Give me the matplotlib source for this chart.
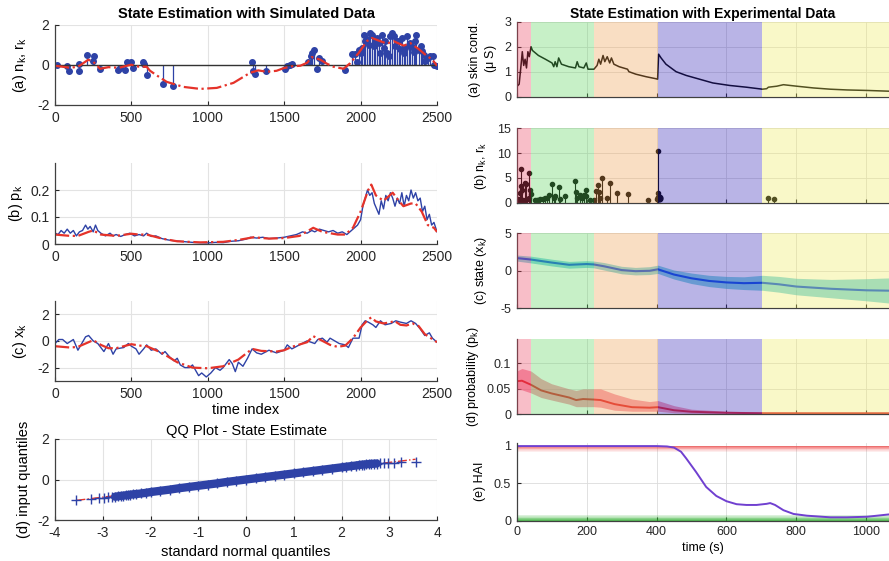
import matplotlib
matplotlib.use("Agg")
import matplotlib.pyplot as plt
import numpy as np

plt.rcParams['font.family'] = ['Liberation Sans', 'DejaVu Sans']
plt.rcParams['mathtext.fontset'] = 'custom'
plt.rcParams['mathtext.rm'] = 'Liberation Sans'
plt.rcParams['mathtext.it'] = 'Liberation Sans'
plt.rcParams['axes.unicode_minus'] = False

# ---------------- Left column data (simulated) ----------------
stem_x = [11, 76, 94, 155, 159, 207, 251, 258, 295, 415, 425, 459, 469, 496, 509, 579, 583, 600,
          710, 775, 1290, 1299, 1310, 1382, 1507, 1518, 1540, 1550, 1659, 1675, 1681, 1692, 1714,
          1731, 1747, 1900, 1943, 1965, 1976, 1987, 2000, 2010, 2020, 2030, 2041, 2052, 2063, 2074,
          2085, 2096, 2107, 2118, 2129, 2140, 2151, 2162, 2173, 2183, 2194, 2205, 2216, 2227, 2238,
          2249, 2260, 2271, 2282, 2293, 2303, 2314, 2325, 2336, 2347, 2358, 2365, 2380, 2395, 2405,
          2413, 2424, 2440, 2456, 2474, 2483, 2500]
stem_y = [0.0, -0.08, -0.3, 0.03, -0.33, 0.5, 0.17, 0.42, -0.2, -0.25, -0.18, -0.25, 0.15, 0.13, -0.17,
          0.15, 0.03, -0.5, -0.95, -1.08, 0.13, -0.33, -0.45, -0.3, -0.22, -0.08, -0.02, 0.03, 0.12,
          0.45, 0.58, 0.72, -0.22, 0.33, 0.2, -0.28, 0.53, 0.55, 0.12, 0.75, 0.6, 0.85, 1.5, 1.2, 1.28,
          1.0, 1.58, 1.5, 0.92, 1.17, 1.33, 1.1, 0.58, 1.5, 0.83, 1.17, 0.58, 0.42, 1.42, 1.58, 1.45,
          0.92, 1.2, 1.17, 0.8, 1.33, 0.58, 0.83, 1.45, 1.0, 1.08, 0.9, 0.62, 1.2, 1.5, 0.75, 0.92,
          0.7, 0.5, 0.17, 0.35, 0.45, 0.45, 0.0, -0.08]
smooth_a_x = [0, 100, 150, 218, 250, 295, 350, 420, 480, 500, 550, 600, 622, 680, 731, 840, 950,
              1059, 1168, 1277, 1330, 1386, 1450, 1496, 1550, 1605, 1650, 1681, 1736, 1780, 1823, 1889,
              1932, 1987, 2041, 2074, 2129, 2173, 2216, 2282, 2325, 2380, 2424, 2470, 2500]
smooth_a_y = [-0.05, -0.15, -0.1, 0.25, 0.15, -0.2, -0.12, -0.15, -0.03, 0.0, -0.1, -0.1, -0.3, -0.6,
              -0.85, -1.1, -1.2, -1.15, -0.9, -0.4, -0.28, -0.35, -0.3, -0.17, -0.08, -0.05, 0.1, 0.38,
              0.25, 0.05, -0.1, -0.2, 0.08, 0.58, 1.17, 1.33, 1.17, 1.05, 1.17, 0.95, 1.08, 0.78, 0.5,
              0.25, -0.05]

pk_x = [0, 2, 20, 40, 60, 80, 100, 120, 140, 160, 180, 200, 215, 230, 250, 265, 280, 300, 330, 360,
        380, 400, 430, 460, 490, 520, 550, 580, 600, 630, 660, 700, 740, 780, 820, 860, 900, 950, 1000,
        1050, 1100, 1150, 1200, 1250, 1280, 1320, 1360, 1400, 1450, 1500, 1540, 1580, 1620, 1650, 1680,
        1700, 1730, 1760, 1790, 1820, 1850, 1880, 1910, 1940, 1960, 1980, 2000, 2015, 2030, 2045, 2060,
        2075, 2090, 2105, 2120, 2135, 2150, 2165, 2180, 2195, 2210, 2225, 2240, 2255, 2270, 2285, 2300,
        2315, 2330, 2345, 2360, 2375, 2390, 2405, 2420, 2435, 2450, 2465, 2480, 2500]
pk_y = [0.0, 0.04, 0.035, 0.05, 0.04, 0.055, 0.04, 0.05, 0.03, 0.045, 0.05, 0.07, 0.055, 0.065, 0.045,
        0.07, 0.05, 0.04, 0.03, 0.04, 0.03, 0.035, 0.028, 0.035, 0.04, 0.03, 0.035, 0.03, 0.04, 0.028,
        0.03, 0.02, 0.015, 0.012, 0.01, 0.008, 0.006, 0.005, 0.004, 0.006, 0.005, 0.01, 0.012, 0.018,
        0.025, 0.022, 0.025, 0.02, 0.022, 0.025, 0.03, 0.035, 0.045, 0.04, 0.05, 0.045, 0.055, 0.05,
        0.045, 0.05, 0.04, 0.045, 0.035, 0.05, 0.06, 0.07, 0.09, 0.14, 0.17, 0.2, 0.18, 0.19, 0.15,
        0.13, 0.11, 0.16, 0.13, 0.18, 0.16, 0.19, 0.17, 0.14, 0.17, 0.15, 0.19, 0.14, 0.18, 0.16, 0.2,
        0.17, 0.19, 0.16, 0.17, 0.12, 0.14, 0.09, 0.11, 0.07, 0.08, 0.045]
pk_red_x = [0, 100, 150, 220, 250, 300, 400, 500, 550, 600, 700, 800, 950, 1100, 1200, 1300, 1400,
            1500, 1600, 1690, 1750, 1850, 1900, 1950, 2000, 2050, 2070, 2100, 2150, 2210, 2250, 2280,
            2330, 2360, 2400, 2440, 2480, 2500]
pk_red_y = [0.035, 0.03, 0.03, 0.045, 0.05, 0.035, 0.03, 0.038, 0.035, 0.035, 0.02, 0.01, 0.006,
            0.008, 0.015, 0.025, 0.02, 0.022, 0.03, 0.06, 0.045, 0.035, 0.035, 0.06, 0.12, 0.2, 0.22,
            0.18, 0.16, 0.19, 0.16, 0.14, 0.15, 0.15, 0.12, 0.07, 0.06, 0.045]

xk_x = [0, 25, 50, 80, 120, 150, 180, 200, 220, 250, 280, 300, 320, 350, 380, 400, 450, 480, 500,
        530, 550, 580, 600, 630, 660, 700, 720, 750, 780, 800, 820, 850, 880, 900, 940, 960, 990, 1020,
        1050, 1080, 1100, 1140, 1160, 1180, 1200, 1230, 1260, 1290, 1320, 1350, 1400, 1450, 1500, 1520,
        1550, 1600, 1650, 1700, 1720, 1750, 1780, 1800, 1830, 1860, 1900, 1920, 1950, 1990, 2010, 2030,
        2050, 2080, 2100, 2130, 2160, 2200, 2230, 2260, 2300, 2330, 2360, 2390, 2420, 2450, 2470, 2500]
xk_y = [-0.2, 0.1, 0.1, -0.2, 0.1, -0.7, -0.1, 0.3, 0.4, 0.0, -0.2, -0.5, -0.8, -0.2, -1.0, -0.6,
        -0.5, -0.2, -0.4, -0.6, -1.0, -0.6, -0.3, -0.7, -0.6, -1.0, -0.8, -1.2, -1.5, -1.3, -1.8, -2.0,
        -2.0, -1.8, -2.6, -2.4, -2.7, -2.4, -2.0, -2.2, -2.0, -1.4, -1.7, -2.3, -1.6, -1.9, -1.3, -0.6,
        -0.9, -1.0, -0.7, -0.9, -0.7, -0.3, -0.6, -0.3, 0.0, -0.2, 0.1, 0.2, -0.1, 0.2, 0.0, -0.2,
        -0.3, -0.5, 0.2, 0.2, 1.2, 1.5, 1.4, 1.2, 1.0, 1.5, 1.2, 1.3, 1.5, 1.4, 1.3, 1.5, 1.3, 0.9,
        0.4, 0.6, 0.2, -0.1]
xk_red_x = [0, 100, 150, 220, 250, 300, 350, 400, 450, 500, 550, 600, 700, 800, 900, 1000, 1100,
            1200, 1290, 1350, 1450, 1500, 1550, 1650, 1690, 1750, 1800, 1850, 1900, 1950, 2000, 2050,
            2070, 2100, 2150, 2200, 2220, 2260, 2300, 2340, 2380, 2420, 2460, 2500]
xk_red_y = [-0.4, -0.5, -0.45, -0.1, 0.05, -0.3, -0.55, -0.55, -0.4, -0.25, -0.35, -0.4, -0.9, -1.6,
            -2.0, -2.05, -1.9, -1.4, -0.6, -0.75, -0.8, -0.7, -0.45, -0.1, 0.35, 0.0, -0.3, -0.45,
            -0.35, 0.2, 1.0, 1.6, 1.75, 1.45, 1.3, 1.4, 1.5, 1.2, 1.15, 1.3, 1.1, 0.5, 0.2, -0.1]

qq_x = [-3.55, -3.25, -3.08, -2.97, -2.88, -2.8, -2.74, -2.68, -2.62, -2.57, -2.52, -2.47, -2.42,
        -2.36, -2.3, -2.2, -2.1, -2.0, -1.8, -1.6, -1.4, -1.2, -1.0, -0.8, -0.6, -0.4, -0.2, 0.0, 0.2,
        0.4, 0.6, 0.8, 1.0, 1.2, 1.4, 1.6, 1.8, 2.0, 2.1, 2.2, 2.3, 2.36, 2.42, 2.47, 2.52, 2.57, 2.62,
        2.68, 2.74, 2.8, 2.88, 2.97, 3.1, 3.25, 3.55]
qq_y = [-1.0, -0.97, -0.93, -0.9, -0.88, -0.86, -0.85, -0.83, -0.81, -0.8, -0.78, -0.77, -0.75,
        -0.73, -0.72, -0.69, -0.66, -0.62, -0.56, -0.5, -0.43, -0.37, -0.31, -0.25, -0.19, -0.12,
        -0.06, 0.0, 0.06, 0.12, 0.18, 0.24, 0.3, 0.36, 0.42, 0.48, 0.54, 0.6, 0.63, 0.66, 0.69, 0.71,
        0.73, 0.74, 0.75, 0.76, 0.77, 0.78, 0.79, 0.8, 0.81, 0.82, 0.83, 0.84, 0.84]
qq_ref_x = [-3.55, 3.55]
qq_ref_y = [-1.03, 1.0]

# ---------------- Right column data (experimental) ----------------
region_edges = [0, 41, 220, 404, 703, 1065]
region_colors = ['#eb4562', '#61d461', '#f0a253', '#3728b8', '#f0eb62']

sc_t = [0, 7, 12, 16, 20, 24, 28, 32, 36, 41, 45, 62, 82, 101, 106, 110, 115, 120, 128, 149, 168,
        173, 178, 192, 199, 204, 221, 230, 235, 240, 247, 252, 259, 266, 271, 278, 293, 317, 321, 341,
        370, 398, 403, 406, 413, 427, 456, 485, 523, 561, 609, 657, 703, 715, 720, 744, 763, 801, 849,
        897, 945, 1003, 1065]
sc_v = [0.4, 0.5, 1.2, 1.8, 1.25, 1.5, 1.15, 1.8, 1.6, 2.0, 1.85, 1.65, 1.5, 1.35, 1.2, 1.4, 1.2,
        1.55, 1.3, 1.2, 1.15, 1.4, 1.2, 1.15, 1.35, 1.1, 1.1, 1.25, 1.5, 1.3, 1.65, 1.4, 1.6, 1.35,
        1.55, 1.3, 1.2, 1.1, 1.0, 0.9, 0.8, 0.72, 0.7, 1.7, 1.55, 1.3, 1.0, 0.85, 0.7, 0.55, 0.45,
        0.38, 0.3, 0.32, 0.38, 0.42, 0.48, 0.42, 0.35, 0.3, 0.27, 0.25, 0.22]

nk_t = [3, 7, 10, 12, 13, 16, 18, 24, 27, 30, 34, 36, 39, 41, 51, 58, 62, 67, 74, 82, 86, 93, 101,
        106, 110, 120, 123, 137, 168, 169, 173, 182, 187, 192, 197, 199, 211, 221, 228, 232, 235, 238,
        245, 257, 266, 288, 317, 377, 400, 403, 405, 720, 737]
nk_v = [0.8, 0.3, 2.0, 6.7, 3.4, 2.6, 0.5, 3.9, 3.8, 0.7, 6.0, 1.0, 2.5, 1.8, 0.5, 0.6, 0.6, 0.8,
        0.8, 0.9, 1.0, 1.6, 3.7, 1.0, 1.3, 3.2, 0.8, 1.4, 4.3, 2.1, 1.0, 1.6, 0.9, 1.6, 2.5, 1.3,
        0.5, 0.5, 2.4, 3.6, 2.1, 0.9, 5.0, 0.9, 4.0, 1.9, 1.7, 0.6, 0.8, 10.5, 2.0, 1.0, 0.7]
nk_big_t = [406]
nk_big_v = [0.9]

st_t = [0, 41, 100, 150, 200, 220, 250, 300, 340, 380, 404, 450, 500, 550, 600, 650, 703, 750, 800,
        900, 1000, 1065]
st_v = [1.7, 1.5, 1.1, 0.8, 0.9, 0.85, 0.6, 0.1, -0.05, 0.0, 0.2, -0.5, -1.0, -1.35, -1.55, -1.65,
        -1.6, -1.8, -2.1, -2.4, -2.6, -2.65]
st_hi = [2.1, 1.95, 1.55, 1.25, 1.35, 1.3, 1.1, 0.6, 0.45, 0.55, 0.75, 0.1, -0.3, -0.6, -0.75, -0.8,
         -0.6, -0.75, -1.0, -1.15, -1.05, -0.95]
st_lo = [1.3, 1.05, 0.65, 0.35, 0.45, 0.4, 0.1, -0.4, -0.55, -0.5, -0.35, -1.1, -1.7, -2.1, -2.35,
         -2.5, -2.6, -2.85, -3.2, -3.6, -4.0, -4.3]

pr_t = [0, 15, 41, 70, 100, 150, 170, 190, 220, 240, 280, 330, 380, 404, 450, 500, 600, 703, 850,
        1065]
pr_v = [0.065, 0.066, 0.058, 0.047, 0.041, 0.033, 0.028, 0.03, 0.029, 0.028, 0.02, 0.014, 0.013,
        0.014, 0.008, 0.005, 0.003, 0.002, 0.002, 0.002]
pr_hi = [0.085, 0.09, 0.085, 0.07, 0.06, 0.05, 0.047, 0.05, 0.05, 0.05, 0.04, 0.03, 0.025, 0.027,
         0.017, 0.01, 0.006, 0.005, 0.004, 0.004]
pr_lo = [0.05, 0.048, 0.042, 0.033, 0.028, 0.02, 0.015, 0.015, 0.015, 0.014, 0.008, 0.006, 0.006,
         0.006, 0.003, 0.002, 0.001, 0.0005, 0.0003, 0.0]

hai_t = [0, 200, 400, 430, 450, 470, 485, 513, 542, 571, 600, 629, 657, 686, 715, 725, 739, 763,
         792, 830, 897, 945, 1003, 1065]
hai_v = [0.995, 0.995, 0.995, 0.99, 0.975, 0.92, 0.83, 0.65, 0.45, 0.33, 0.26, 0.22, 0.21, 0.21,
         0.225, 0.235, 0.21, 0.14, 0.09, 0.067, 0.045, 0.045, 0.053, 0.084]

# ---------------- Styles ----------------
BLUE = '#2e42a6'
RED = '#e5332a'
GRID = '#e3e3e3'
SPINE = '#404040'

W, H = 889, 561
fig = plt.figure(figsize=(W / 100, H / 100), dpi=100)


def add_ax(x0, x1, ytop, ybot):
    return fig.add_axes([x0 / W, 1 - ybot / H, (x1 - x0) / W, (ybot - ytop) / H])


def style(ax, fs=10):
    for s in ['top', 'right']:
        ax.spines[s].set_visible(False)
    for s in ['left', 'bottom']:
        ax.spines[s].set_color(SPINE)
        ax.spines[s].set_linewidth(0.9)
    ax.tick_params(direction='in', length=3, width=0.8, labelsize=fs, colors='#262626', pad=4)
    ax.grid(True, color=GRID, linewidth=0.8)
    ax.set_axisbelow(True)


LX0, LX1 = 55, 437
# (a)
ax = add_ax(LX0, LX1, 24.5, 105)
style(ax)
ml, sl, bl = ax.stem(stem_x, stem_y, linefmt='-', markerfmt='o', basefmt='k-')
plt.setp(sl, color=BLUE, linewidth=0.9)
plt.setp(ml, color=BLUE, markersize=4)
plt.setp(bl, color='#333333', linewidth=1.0)
ax.plot(smooth_a_x, smooth_a_y, '-.', color=RED, linewidth=1.6)
ax.set_xlim(0, 2500)
ax.set_ylim(-2, 2)
ax.set_xticks([0, 500, 1000, 1500, 2000, 2500])
ax.set_yticks([-2, 0, 2])
ax.set_ylabel('(a) n$_k$, r$_k$', fontsize=10.5, labelpad=6)
ax.set_title('State Estimation with Simulated Data', fontsize=10.5, fontweight='bold', pad=5)

# (b)
ax = add_ax(LX0, LX1, 163, 244)
style(ax)
ax.plot(pk_x, pk_y, '-', color=BLUE, linewidth=1.0)
ax.plot(pk_red_x, pk_red_y, '-.', color=RED, linewidth=1.6)
ax.set_xlim(0, 2500)
ax.set_ylim(0, 0.3)
ax.set_xticks([0, 500, 1000, 1500, 2000, 2500])
ax.set_yticks([0, 0.1, 0.2])
ax.set_yticklabels(['0', '0.1', '0.2'])
ax.set_ylabel('(b) p$_k$', fontsize=10.5, labelpad=4)

# (c)
ax = add_ax(LX0, LX1, 300.7, 381)
style(ax)
ax.plot(xk_x, xk_y, '-', color=BLUE, linewidth=1.0)
ax.plot(xk_red_x, xk_red_y, '-.', color=RED, linewidth=1.6)
ax.set_xlim(0, 2500)
ax.set_ylim(-3, 3)
ax.set_xticks([0, 500, 1000, 1500, 2000, 2500])
ax.set_yticks([-2, 0, 2])
ax.set_ylabel('(c) x$_k$', fontsize=10.5, labelpad=6)
ax.set_xlabel('time index', fontsize=10.5, labelpad=2)

# (d) QQ
ax = add_ax(LX0, LX1, 439, 520)
style(ax)
ax.plot(qq_ref_x, qq_ref_y, '-.', color=RED, linewidth=1.0, zorder=2)
ax.plot(qq_x[6:-6], qq_y[6:-6], '-', color=BLUE, linewidth=6, solid_capstyle='round', zorder=3)
ax.plot(qq_x, qq_y, '+', color=BLUE, markersize=7, markeredgewidth=1.0, zorder=4)
ax.set_xlim(-4, 4)
ax.set_ylim(-2, 2)
ax.set_xticks([-4, -3, -2, -1, 0, 1, 2, 3, 4])
ax.set_yticks([-2, 0, 2])
ax.set_ylabel('(d) input quantiles', fontsize=10.5, labelpad=4)
ax.set_xlabel('standard normal quantiles', fontsize=10.5, labelpad=4)
ax.set_title('QQ Plot - State Estimate', fontsize=10.5, pad=3)

# ---------------- Right column ----------------
RX0, RX1 = 516.7, 889


def rstyle(ax, labels=False):
    style(ax, fs=9)
    ax.set_xlim(0, 1065)
    ax.set_xticks([0, 200, 400, 600, 800, 1000])
    if not labels:
        ax.tick_params(labelbottom=False)
    ax.grid(True, color='#dcdcdc', linewidth=0.6)


def overlay(ax):
    for i in range(len(region_colors)):
        ax.axvspan(region_edges[i], region_edges[i + 1], color=region_colors[i], alpha=0.35,
                   linewidth=0, zorder=10)


# (a) skin conductance
ax = add_ax(RX0, RX1, 21.7, 96.7)
rstyle(ax)
ax.plot(sc_t, sc_v, '-', color='black', linewidth=1.1)
ax.set_ylim(0, 3)
ax.set_yticks([0, 1, 2, 3])
overlay(ax)
ax.set_ylabel('(a) skin cond.\n($\\mu$ S)', fontsize=9, labelpad=4, linespacing=1.1)
ax.set_title('State Estimation with Experimental Data', fontsize=10, fontweight='bold', pad=3)

# (b) n_k r_k
ax = add_ax(RX0, RX1, 128.3, 202.7)
rstyle(ax)
ml, sl, bl = ax.stem(nk_t, nk_v, linefmt='-', markerfmt='o', basefmt=' ')
plt.setp(sl, color='black', linewidth=0.8)
plt.setp(ml, color='black', markersize=3)
ax.plot(nk_big_t, nk_big_v, 'o', color='black', markersize=5)
ax.set_ylim(0, 15)
ax.set_yticks([0, 5, 10, 15])
overlay(ax)
ax.set_ylabel('(b) n$_k$, r$_k$', fontsize=9, labelpad=6)

# (c) state
ax = add_ax(RX0, RX1, 233.3, 308.3)
rstyle(ax)
ax.fill_between(st_t, st_lo, st_hi, color='#1fb8c8', alpha=0.55, linewidth=0)
ax.plot(st_t, st_v, '-', color='#0a55e0', linewidth=1.5)
ax.set_ylim(-5, 5)
ax.set_yticks([-5, 0, 5])
overlay(ax)
ax.set_ylabel('(c) state (x$_k$)', fontsize=9, labelpad=8)

# (d) probability
ax = add_ax(RX0, RX1, 339, 414.3)
rstyle(ax)
ax.fill_between(pr_t, pr_lo, pr_hi, color='#f06080', alpha=0.6, linewidth=0)
ax.plot(pr_t, pr_v, '-', color='#e0202c', linewidth=1.4)
ax.set_ylim(0, 0.148)
ax.set_yticks([0, 0.05, 0.1])
ax.set_yticklabels(['0', '0.05', '0.1'])
overlay(ax)
ax.set_ylabel('(d) probability (p$_k$)', fontsize=9, labelpad=4)

# (e) HAI
ax = add_ax(RX0, RX1, 442.7, 520.7)
rstyle(ax, labels=True)
band_steps = [0.0, 0.01, 0.02, 0.03, 0.04, 0.05, 0.06, 0.07, 0.08]
band_alpha = [0.8, 0.68, 0.56, 0.45, 0.35, 0.26, 0.17, 0.09]
for i in range(len(band_alpha)):
    ax.axhspan(1.0 - band_steps[i + 1], 1.0 - band_steps[i], color='#f03a3a', alpha=band_alpha[i],
               linewidth=0)
    ax.axhspan(band_steps[i], band_steps[i + 1], color='#30b030', alpha=band_alpha[i], linewidth=0)
ax.plot(hai_t, hai_v, '-', color='#7040d0', linewidth=1.4)
ax.set_ylim(0, 1.04)
ax.set_yticks([0, 0.5, 1])
ax.set_yticklabels(['0', '0.5', '1'])
ax.set_ylabel('(e) HAI', fontsize=9, labelpad=6)
ax.set_xlabel('time (s)', fontsize=9, labelpad=3)

fig.savefig('out.png', dpi=100)
